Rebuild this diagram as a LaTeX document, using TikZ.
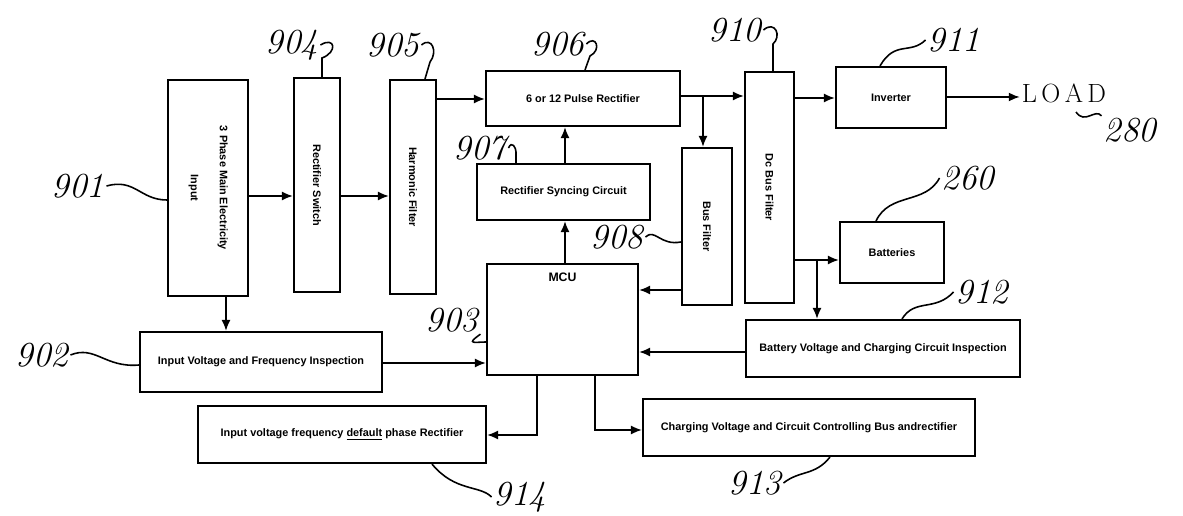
\documentclass[tikz,border=0pt]{standalone}
\usepackage{fontspec}
\setsansfont{Liberation Sans}
\usepackage{tikz}
\usetikzlibrary{arrows.meta, positioning}

\begin{document}
\begin{tikzpicture}[
		x=0.02cm, y=-0.02cm,
		blk/.style={
			draw,
			line width=1.2pt,
			inner sep=0pt,
			align=center,
			font=\fontsize{6.2}{7.5}\selectfont\sffamily\bfseries
		},
		num/.style={font=\fontsize{20}{20}\selectfont\itshape, inner sep=1pt},
		arr/.style={-{Latex[length=2.2mm,width=1.8mm]}, line width=1pt},
		wig/.style={line width=0.9pt}
		]
		\useasboundingbox (0,0) rectangle (1183,516);
		
		% blocks
		\node[blk, minimum width=1.6cm, minimum height=4.32cm] (mains) at (208,188)
			{\rotatebox{-90}{\begin{tabular}{c}3 Phase Main Electricity\\[9pt] Input\end{tabular}}};
		\node[blk, minimum width=0.92cm, minimum height=4.28cm] (sw) at (317,185) {\rotatebox{-90}{Rectifier Switch}};
		\node[blk, minimum width=0.92cm, minimum height=4.28cm] (hf) at (413,187) {\rotatebox{-90}{Harmonic Filter}};
		\node[blk, minimum width=3.88cm, minimum height=1.1cm] (rect) at (583,98.5) {6 or 12 Pulse Rectifier};
		\node[blk, minimum width=3.46cm, minimum height=1.12cm] (sync) at (563.5,192) {Rectifier Syncing Circuit};
		\node[blk, minimum width=1.0cm, minimum height=3.14cm] (busf) at (707,226.5) {\rotatebox{-90}{Bus Filter}};
		\node[blk, minimum width=0.98cm, minimum height=4.62cm] (dcbus) at (769.5,187.5) {\rotatebox{-90}{Dc Bus Filter}};
		\node[blk, minimum width=2.2cm, minimum height=1.22cm] (inv) at (891,97.5) {Inverter};
		\node[blk, minimum width=2.08cm, minimum height=1.22cm] (bat) at (892,252.5) {Batteries};
		\node[blk, minimum width=3.02cm, minimum height=2.22cm,
			label={[font=\fontsize{7}{8}\selectfont\sffamily\bfseries, yshift=-0.5cm]north:MCU}] (mcu) at (562.5,319.5) {};
		\node[blk, minimum width=4.84cm, minimum height=1.2cm] (ivfi) at (261,362) {Input Voltage and Frequency Inspection};
		\node[blk, minimum width=5.48cm, minimum height=1.14cm] (bvci) at (883,348.5) {Battery Voltage and Charging Circuit Inspection};
		\node[blk, minimum width=6.64cm, minimum height=1.14cm] (cvc) at (809,427.5) {Charging Voltage and Circuit Controlling Bus andrectifier};
		\node[blk, minimum width=5.76cm, minimum height=1.14cm] (ivfr) at (342,434.5) {Input voltage frequency \underline{default} phase Rectifier};
		\node[num, font=\fontsize{15}{15}\selectfont] (load) at (1064,93) {L\,O\,A\,D};
		
		% reference numbers
		\node[num] (n901) at (78,186) {901};
		\node[num] (n902) at (42,355) {902};
		\node[num] (n903) at (452,320) {903};
		\node[num] (n904) at (292,45) {904};
		\node[num] (n905) at (393,45) {905};
		\node[num] (n906) at (558,44) {906};
		\node[num] (n907) at (480,148) {907};
		\node[num] (n908) at (617,237) {908};
		\node[num] (n910) at (735,30) {910};
		\node[num] (n911) at (954,40) {911};
		\node[num] (n260) at (968,178) {260};
		\node[num] (n912) at (982,292) {912};
		\node[num] (n913) at (755,483) {913};
		\node[num] (n914) at (520,497) {914};
		\node[num] (n280) at (1130,130) {280};
		
		% signal paths
		\draw[arr] (mains.east |- 0,196) -- (sw.west |- 0,196);
		\draw[arr] (sw.east |- 0,196) -- (hf.west |- 0,196);
		\draw[arr] (hf.east |- 0,99) -- (rect.west |- 0,99);
		\draw[arr] (rect.east |- 0,96) -- (dcbus.west |- 0,96);
		\coordinate (j1) at (703,96);
		\draw[arr] (j1) -- (j1 |- busf.north);
		\draw[arr] (565,0 |- sync.north) -- (565,0 |- rect.south);
		\draw[arr] (565,0 |- mcu.north) -- (565,0 |- sync.south);
		\draw[arr] (busf.west |- 0,290) -- (mcu.east |- 0,290);
		\draw[arr] (dcbus.east |- 0,98) -- (inv.west |- 0,98);
		\draw[arr] (inv.east |- 0,97) -- (load.west |- 0,97);
		\draw[arr] (dcbus.east |- 0,260) -- (bat.west |- 0,260);
		\coordinate (j2) at (817,260);
		\draw[arr] (j2) -- (j2 |- bvci.north);
		\draw[arr] (bvci.west |- 0,352) -- (mcu.east |- 0,352);
		\draw[arr] (226,0 |- mains.south) -- (226,0 |- ivfi.north);
		\draw[arr] (ivfi.east |- 0,363) -- (mcu.west |- 0,363);
		\draw[arr] (537,0 |- mcu.south) |- (ivfr.east |- 0,435);
		\draw[arr] (595,0 |- mcu.south) |- (cvc.west |- 0,430);
		
		% leader squiggles
		\draw[wig] (n901.east) .. controls (135,178) and (140,200) .. (mains.west |- 0,200);
		\draw[wig] (n902.east) .. controls (95,345) and (105,368) .. (ivfi.west |- 0,365);
		\draw[wig] (n903.south east) .. controls (465,345) and (475,342) .. (mcu.west |- 0,342);
		\draw[wig] (n904.east) .. controls (335,36) and (338,52) .. (322,58) -- (322,0 |- sw.north);
		\draw[wig] (n905.east) .. controls (432,36) and (438,52) .. (430,62) -- (425,0 |- hf.north);
		\draw[wig] (n906.east) .. controls (596,34) and (602,50) .. (590,56) -- (585,0 |- rect.north);
		\draw[wig] (n907.east) .. controls (512,140) and (516,148) .. (516,152) -- (516,0 |- sync.north);
		\draw[wig] (n908.east) .. controls (655,228) and (660,246) .. (busf.west |- 0,242);
		\draw[wig] (n910.east) .. controls (775,20) and (782,36) .. (773,44) -- (773,0 |- dcbus.north);
		\draw[wig] (n911.west) .. controls (910,55) and (895,40) .. (880,0 |- inv.north);
		\draw[wig] (n260.west) .. controls (925,205) and (890,192) .. (876,0 |- bat.north);
		\draw[wig] (n912.west) .. controls (935,312) and (915,298) .. (902,0 |- bvci.north);
		\draw[wig] (n913.east) .. controls (800,470) and (815,476) .. (830,0 |- cvc.south);
		\draw[wig] (n914.west) .. controls (480,485) and (455,492) .. (432,0 |- ivfr.south);
		\draw[wig] (n280.north west) .. controls (1095,108) and (1085,125) .. (1076,112);
		
	\end{tikzpicture}
\end{document}
